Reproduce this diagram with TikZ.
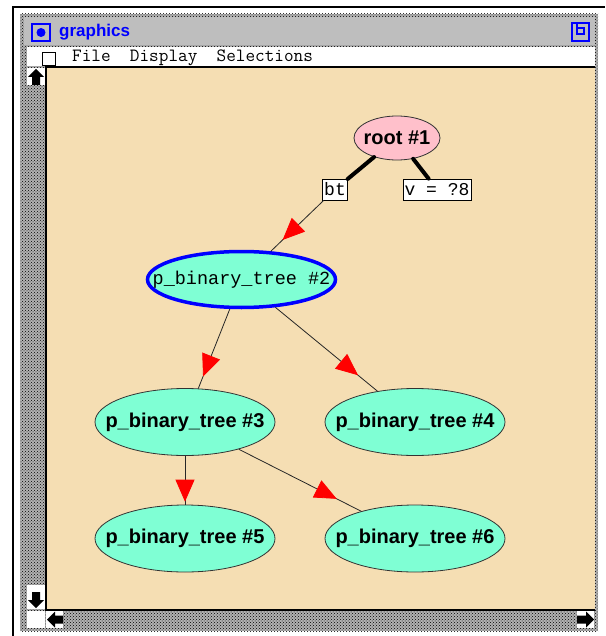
\documentclass[tikz,border=0pt]{standalone}
\usepackage{fontspec}
\setmainfont{Liberation Sans}
\newfontfamily\slotfont{Liberation Mono}
\usetikzlibrary{shapes.geometric,arrows.meta,decorations.markings,patterns}
\definecolor{wheat}{RGB}{245,222,179}
\definecolor{aquamarine}{RGB}{127,255,212}
\definecolor{rootpink}{RGB}{255,192,203}
\definecolor{titlegray}{RGB}{190,190,190}
\tikzset{
  treenode/.style={ellipse,draw=black!80,line width=0.8pt,fill=aquamarine,
    minimum width=180pt,minimum height=67pt,inner sep=0pt,
    font=\fontsize{20}{20}\selectfont\bfseries},
  slotbox/.style={draw=black,line width=0.8pt,fill=white,inner xsep=1.5pt,
    inner ysep=0pt,minimum height=21pt,font=\fontsize{18}{18}\slotfont},
  slotedge/.style={line width=4pt,line cap=round},
  childedge/.style={draw=black!85,line width=0.8pt,postaction={decorate},
    decoration={markings,mark=at position #1 with
      {\arrow[red]{Triangle[length=22pt,width=19pt]}}}},
  stipple/.style={pattern=crosshatch dots,pattern color=black},
  scrollarrow/.style={fill=black},
}
\newcommand{\nodetext}[1]{\makebox[0pt]{#1}}

\begin{document}
\begin{tikzpicture}[x=1pt,y=-1pt]
  \useasboundingbox (0,0) rectangle (605,636);
  \fill[white] (0,0) rectangle (605,636);
  % outer frame
  \draw[line width=2pt] (13,636) -- (13,7) -- (605,7);
  % window border
  \fill[gray!60] (20,14) rectangle (598,631);
  \fill[stipple] (20,14) rectangle (598,631);
  % title bar
  \fill[titlegray] (24,17) rectangle (595,45);
  \draw[blue,line width=1.5pt] (32,24) rectangle (50,41);
  \fill[blue] (41,32.5) circle (4.5);
  \node[anchor=west,inner sep=0pt,blue,font=\fontsize{17}{17}\selectfont\bfseries] (title) at (59,32) {graphics};
  \draw[blue,line width=1.5pt] (572,23) rectangle (589,41);
  \draw[blue,line width=1.5pt] (577,23) -- (577,34) -- (584,34) -- (584,28) -- (577,28);
  % menu bar
  \fill[white] (27,47) rectangle (595,66);
  \draw[fill=white,line width=1pt] (42,53) rectangle (55,66);
  \node[anchor=base west,inner sep=0pt,font=\fontsize{18.7}{18.7}\ttfamily] (menu) at (72,62) {File\ \ Display\ \ Selections};
  % canvas
  \fill[wheat] (45,68) rectangle (595,610);
  \draw[line width=2pt] (46,610) -- (46,67) -- (595,67);
  \draw[line width=2pt] (45,610) -- (595,610);
  % scroll bars
  \fill[white] (27,68) rectangle (45,85);
  \fill[scrollarrow] (36,69) -- (44,77) -- (40,77) -- (40,85) -- (32,85) -- (32,77) -- (28,77) -- cycle;
  \fill[white] (27,585) rectangle (45,609);
  \fill[scrollarrow] (32,592) -- (40,592) -- (40,600) -- (44,600) -- (36,608) -- (28,600) -- (32,600) -- cycle;
  \fill[white] (27,611) rectangle (45,628);
  \fill[white] (46,611) rectangle (63,628);
  \fill[scrollarrow] (47,619.5) -- (55,611.5) -- (55,615.5) -- (63,615.5) -- (63,623.5) -- (55,623.5) -- (55,627.5) -- cycle;
  \fill[white] (577,611) rectangle (594,628);
  \fill[scrollarrow] (594,619.5) -- (586,611.5) -- (586,615.5) -- (577,615.5) -- (577,623.5) -- (586,623.5) -- (586,627.5) -- cycle;

  % nodes
  \node[ellipse,draw=black!80,line width=0.8pt,fill=rootpink,minimum width=86pt,minimum height=44pt,
    inner sep=0pt,font=\fontsize{20}{20}\selectfont\bfseries] (root) at (397,138) {\nodetext{root \#1}};
  \node[slotbox] (bt) at (335,189.5) {bt};
  \node[slotbox] (vbox) at (437,189.5) {v = ?8};
  \node[treenode,draw=blue,line width=3.5pt,minimum width=188pt,minimum height=56pt,
    font=\fontsize{18.5}{18.5}\slotfont] (p2) at (241.5,279.5) {\nodetext{p\_binary\_tree \#2}};
  \node[treenode] (p3) at (185,422) {\nodetext{p\_binary\_tree \#3}};
  \node[treenode] (p4) at (415,422) {\nodetext{p\_binary\_tree \#4}};
  \node[treenode] (p5) at (185,538.5) {\nodetext{p\_binary\_tree \#5}};
  \node[treenode] (p6) at (415,538.5) {\nodetext{p\_binary\_tree \#6}};

  % slot edges
  \draw[slotedge] (root) -- (bt);
  \draw[slotedge] (root) -- (vbox);
  % child edges
  \draw[childedge=0.78] (bt) -- (p2);
  \draw[childedge=0.85] (p2) -- (p3);
  \draw[childedge=0.81] (p2) -- (p4);
  \draw[childedge=0.94] (p3) -- (p5);
  \draw[childedge=0.80] (p3) -- (p6);
\end{tikzpicture}
\end{document}
